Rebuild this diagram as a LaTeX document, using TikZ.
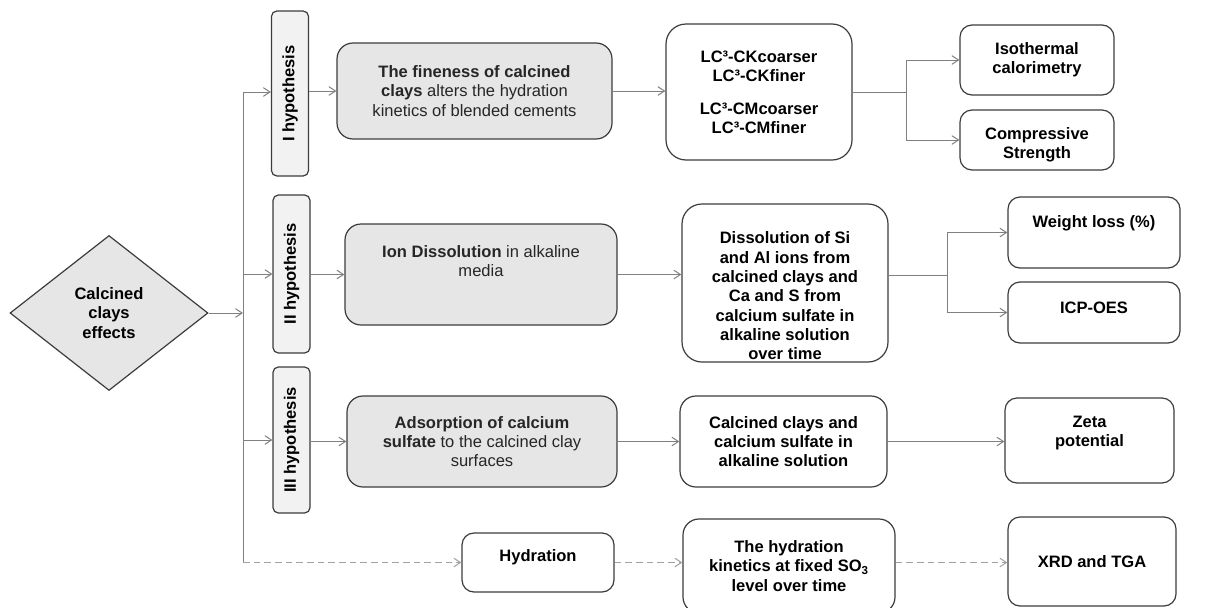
\documentclass[tikz,border=0pt]{standalone}
\usepackage{fontspec}
\setmainfont{Liberation Sans}
\usetikzlibrary{shapes.geometric,arrows.meta}
\definecolor{boxgray}{RGB}{230,230,230}
\definecolor{hypgray}{RGB}{242,242,242}
\definecolor{edgegray}{RGB}{60,60,60}
\definecolor{linegray}{RGB}{128,128,128}
\newcommand{\boxfont}{\fontsize{12.4}{14.5}\selectfont}
\begin{document}
\begin{tikzpicture}[x=0.75pt,y=0.75pt,yscale=-1,xscale=1,
  box/.style={draw=edgegray,line width=0.9pt,rounded corners=9pt,fill=white,inner sep=0pt,align=center,font=\boxfont\bfseries},
  graybox/.style={box,fill=boxgray,rounded corners=12pt,font=\boxfont,text=black!85},
  hypbox/.style={box,fill=hypgray,rounded corners=4pt,minimum width=27.75pt},
  txt/.style={align=center,inner sep=0pt,font=\boxfont\bfseries},
  link/.style={draw=linegray,line width=0.75pt,-{Straight Barb[length=5pt,width=6.5pt]}},
  dlink/.style={link,draw=linegray!75,dash pattern={on 5pt off 3pt}}
]
\useasboundingbox (0,0) rectangle (1206,607);

%Diamond: calcined clays effects
\node[diamond,draw=edgegray,line width=0.9pt,fill=boxgray,minimum width=148.5pt,minimum height=116.25pt,inner sep=0pt,align=center,font=\boxfont\bfseries] (effects) at (109,313) {Calcined\\clays\\effects};

%Hypothesis boxes
\node[hypbox,minimum height=123.75pt] (hI) at (290,93.5) {\rotatebox{90}{I hypothesis}};
\node[hypbox,minimum height=118.5pt] (hII) at (291.5,274) {\rotatebox{90}{II hypothesis}};
\node[hypbox,minimum height=109.5pt] (hIII) at (291.5,440) {\rotatebox{90}{III hypothesis}};

%Gray boxes
\node[graybox,minimum width=206.25pt,minimum height=72pt] (fine) at (474.5,91) {\textbf{The fineness of calcined}\\\textbf{clays} alters the hydration\\kinetics of blended cements};
\node[graybox,minimum width=204pt,minimum height=75.75pt] (ion) at (481,274.5) {};
\node[txt,font=\boxfont,text=black!85] (ionT) at (481,261) {\textbf{Ion Dissolution} in alkaline\\media};
\node[graybox,minimum width=202.5pt,minimum height=68.25pt] (adsorb) at (482,441.5) {\textbf{Adsorption of calcium}\\\textbf{sulfate} to the calcined clay\\surfaces};
\node[box,minimum width=114pt,minimum height=44.25pt] (hydr) at (538,562.5) {};
\node[txt] (hydrT) at (538,557) {Hydration};

%Samples and conditions
\node[box,rounded corners=15pt,minimum width=139.5pt,minimum height=102pt] (lc) at (759,92) {LC³-CKcoarser\\LC³-CKfiner\\[10pt]LC³-CMcoarser\\LC³-CMfiner};
\node[box,rounded corners=15pt,minimum width=154.5pt,minimum height=118.5pt] (diss) at (785,283) {};
\node[txt] (dissT) at (785,296) {Dissolution of Si\\and Al ions from\\calcined clays and\\Ca and S from\\calcium sulfate in\\alkaline solution\\over time};
\node[box,rounded corners=12pt,minimum width=155.25pt,minimum height=68.25pt] (ccl) at (783.5,441.5) {Calcined clays and\\calcium sulfate in\\alkaline solution};
\node[box,rounded corners=12pt,minimum width=159pt,minimum height=70.5pt] (kin) at (789,566) {The hydration\\kinetics at fixed SO\textsubscript{3}\\level over time};

%Techniques
\node[box,minimum width=115.5pt,minimum height=52.5pt] (iso) at (1037,60) {Isothermal\\calorimetry};
\node[box,minimum width=115.5pt,minimum height=45pt] (comp) at (1037,140) {};
\node[txt] (compT) at (1037,145) {Compressive\\Strength};
\node[box,minimum width=129pt,minimum height=53.25pt] (wl) at (1094,232.5) {};
\node[txt] (wlT) at (1094,223) {Weight loss (\%)};
\node[box,minimum width=129pt,minimum height=45.75pt] (icp) at (1094,312.5) {};
\node[txt] (icpT) at (1094,308) {ICP-OES};
\node[box,minimum width=126.75pt,minimum height=63.75pt] (zeta) at (1089.5,440.5) {};
\node[txt] (zetaT) at (1089.5,433) {Zeta\\potential};
\node[box,minimum width=126pt,minimum height=66.75pt] (xrd) at (1092,561.5) {XRD and TGA};

%Trunk
\coordinate (ttop) at (243,92);
\coordinate (b1) at (906,92);
\coordinate (b2) at (947,275);
\draw[draw=linegray,line width=0.75pt] (ttop) -- (hydr.west -| ttop);
\draw[link] (effects.east) -- (effects.east -| ttop);
\draw[link] (ttop) -- (hI.west |- ttop);
\draw[link] (hII.west -| ttop) -- (hII.west);
\draw[link] (hIII.west -| ttop) -- (hIII.west);
\draw[dlink] (hydr.west -| ttop) -- (hydr.west);

%Hypothesis to setup
\draw[link] (hI.east |- fine.west) -- (fine.west);
\draw[link] (hII.east |- ion.west) -- (ion.west);
\draw[link] (hIII.east |- adsorb.west) -- (adsorb.west);
\draw[link] (fine.east) -- (lc.west |- fine.east);
\draw[link] (ion.east) -- (diss.west |- ion.east);
\draw[link] (adsorb.east) -- (ccl.west |- adsorb.east);
\draw[dlink] (hydr.east) -- (kin.west |- hydr.east);

%Setup to techniques
\draw[draw=linegray,line width=0.75pt] (lc.east |- b1) -- (b1);
\draw[link] (b1) |- (iso.west);
\draw[link] (b1) |- (comp.west);
\draw[draw=linegray,line width=0.75pt] (diss.east |- b2) -- (b2);
\draw[link] (b2) |- (wl.west);
\draw[link] (b2) |- (icp.west);
\draw[link] (ccl.east) -- (zeta.west |- ccl.east);
\draw[dlink] (kin.east |- hydr.east) -- (xrd.west |- hydr.east);

\end{tikzpicture}
\end{document}
